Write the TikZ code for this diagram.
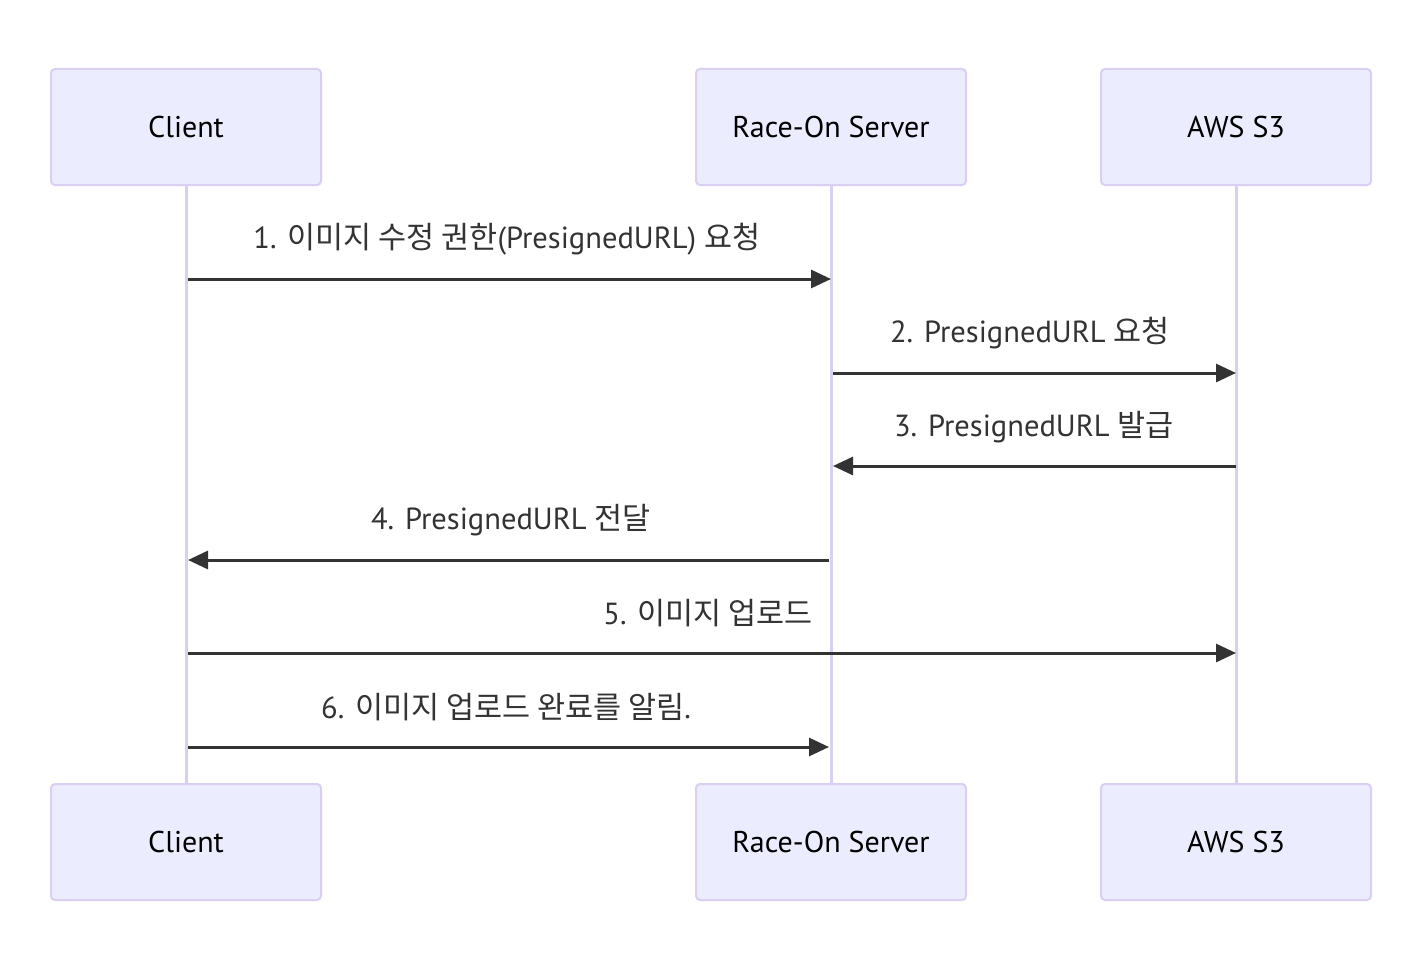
\documentclass[tikz,border=0pt]{standalone}
\usepackage{fontspec}
\setmainfont{PT Sans}
\newfontfamily\kr{Noto Sans CJK KR}
\usetikzlibrary{arrows.meta}
\definecolor{actfill}{HTML}{ECECFF}
\definecolor{actline}{HTML}{DACEF2}
\definecolor{msgline}{HTML}{333333}
\begin{document}
\begin{tikzpicture}[x=1pt,y=-1pt,
  actor/.style={draw=actline, fill=actfill, line width=2pt, rounded corners=4pt,
    minimum width=270pt, minimum height=116pt, inner sep=0pt,
    font=\fontsize{30}{34}\selectfont, text=black},
  life/.style={draw=actline, line width=3pt},
  msg/.style={draw=msgline, line width=3pt, -{Triangle[length=20pt,width=18pt]}},
  lbl/.style={font=\fontsize{30.5}{34}\selectfont, text=msgline, inner sep=0pt}]
\useasboundingbox (0,0) rectangle (1423,955);
\fill[white] (0,0) rectangle (1423,955);
% lifelines
\draw[life] (186,185) -- (186,784);
\draw[life] (831,185) -- (831,784);
\draw[life] (1236,185) -- (1236,784);
% actors
\node[actor] (ct) at (186,127) {Client};
\node[actor] (st) at (831,127) {Race-On Server};
\node[actor] (at) at (1236,127) {AWS S3};
\node[actor] (cb) at (186,842) {Client};
\node[actor] (sb) at (831,842) {Race-On Server};
\node[actor] (ab) at (1236,842) {AWS S3};
% coordinates
\foreach \n/\y in {1/279,2/373,3/466,4/560,5/653,6/747}{
  \coordinate (c\n) at (188,\y);
  \coordinate (s\n) at (831,\y);
  \coordinate (a\n) at (1236,\y);
}
\draw[msg] (c1) -- (s1);
\node[lbl] (l1) at (507,239) {1. {\kr 이미지 수정 권한}(PresignedURL) {\kr 요청}};
\draw[msg] ([xshift=2pt]s2) -- (a2);
\node[lbl] (l2) at (1030,333) {2. PresignedURL {\kr 요청}};
\draw[msg] (a3) -- ([xshift=2pt]s3);
\node[lbl] (l3) at (1034,427) {3. PresignedURL {\kr 발급}};
\draw[msg] ([xshift=-2pt]s4) -- (c4);
\node[lbl] (l4) at (511,520) {4. PresignedURL {\kr 전달}};
\draw[msg] (c5) -- (a5);
\node[lbl] (l5) at (708,613) {5. {\kr 이미지 업로드}};
\draw[msg] (c6) -- ([xshift=-2pt]s6);
\node[lbl] (l6) at (506,707) {6. {\kr 이미지 업로드 완료를 알림}.};
\end{tikzpicture}
\end{document}
